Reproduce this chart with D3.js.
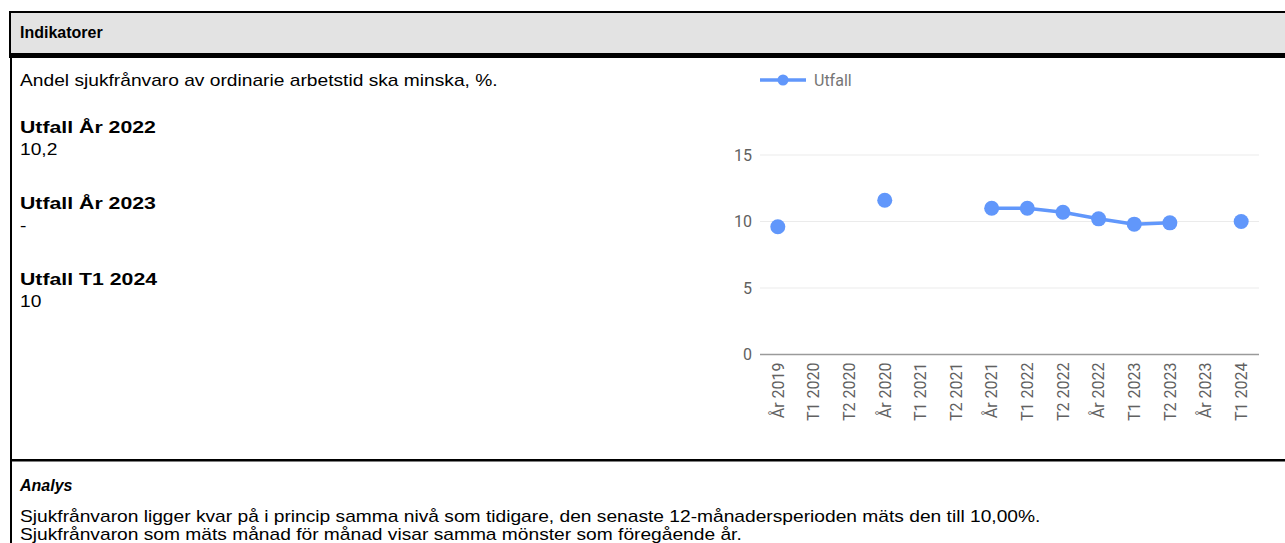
<!DOCTYPE html>
<html lang="sv">
<head>
<meta charset="UTF-8">
<title>Indikatorer</title>
<script src="https://cdn.jsdelivr.net/npm/d3@7"></script>
<style>
  body { margin: 0; background: #fff; }
  svg { display: block; }
</style>
</head>
<body>
<div id="container"></div>
<script>
// chart data
const categories = ["År 2019", "T1 2020", "T2 2020", "År 2020", "T1 2021", "T2 2021", "År 2021",
  "T1 2022", "T2 2022", "År 2022", "T1 2023", "T2 2023", "År 2023", "T1 2024"]
const utfall = [9.6, null, null, 11.6, null, null, 11.0, 11.0, 10.7, 10.2, 9.8, 9.9, null, 10.0]
const yTicks = [0, 5, 10, 15]
const seriesName = "Utfall"

// texts beside the chart
const summaryLabels = ["Utfall År 2022", "Utfall År 2023", "Utfall T1 2024"]
const summaryValues = ["10,2", "-", "10"]
const analysLines = [
  "Sjukfrånvaron ligger kvar på i princip samma nivå som tidigare, den senaste 12-månadersperioden mäts den till 10,00%.",
  "Sjukfrånvaron som mäts månad för månad visar samma mönster som föregående år."
]

const W = 1285, H = 543
const blue = "#6197fb"
const textFont = "'Liberation Sans', Arial, sans-serif"
const chartFont = "Roboto, sans-serif"

const svg = d3.select("#container").append("svg")
  .attr("width", W).attr("height", H)

// frame
svg.append("rect").attr("x", 10).attr("y", 12).attr("width", W).attr("height", 42)
  .attr("fill", "#e3e3e3").attr("stroke", "#000").attr("stroke-width", 2)
svg.append("rect").attr("x", 9).attr("y", 53).attr("width", W).attr("height", 5).attr("fill", "#000")
svg.append("rect").attr("x", 10).attr("y", 58).attr("width", 2).attr("height", H).attr("fill", "#000")
svg.append("rect").attr("x", 10).attr("y", 459).attr("width", W).attr("height", 2.5).attr("fill", "#000")

// the body text of the reference is drawn a bit wider than plain Arial, hence sx
const txt = (y, s, opts = {}) => svg.append("text")
  .attr("transform", `translate(20,${y}) scale(${opts.sx || 1},1)`)
  .text(s)
  .attr("font-family", textFont).attr("font-size", 16)
  .attr("font-weight", opts.bold ? "bold" : "normal")
  .attr("font-style", opts.italic ? "italic" : "normal")
  .attr("fill", "#000")

txt(38, "Indikatorer", { bold: true })
txt(86, "Andel sjukfrånvaro av ordinarie arbetstid ska minska, %.", { sx: 1.2 })
summaryLabels.forEach((s, i) => {
  txt(133 + i * 76, s, { bold: true, sx: 1.33 })
  txt(154.5 + i * 76, summaryValues[i], { sx: 1.2 })
})
txt(491, "Analys", { bold: true, italic: true })
analysLines.forEach((s, i) => txt(521.5 + i * 18, s, { sx: 1.2 }))

// chart
const x = d3.scaleBand().domain(categories).range([760, 1259])
const y = d3.scaleLinear().domain([0, 15]).range([354.5, 155])

const grid = svg.append("g")
grid.selectAll("line").data(yTicks).join("line")
  .attr("x1", 760).attr("x2", 1259)
  .attr("y1", d => y(d)).attr("y2", d => y(d))
  .attr("stroke", d => d === 0 ? "#9a9a9a" : "#ebebeb")
  .attr("stroke-width", d => d === 0 ? 1.5 : 1.2)

const yAxis = svg.append("g").attr("transform", "translate(760,0)")
  .call(d3.axisLeft(y).tickValues(yTicks).tickSize(0).tickPadding(8))
yAxis.select(".domain").remove()
yAxis.selectAll("text").attr("font-family", chartFont).attr("font-size", 16).attr("fill", "#616161")

const xAxis = svg.append("g").attr("transform", "translate(0,354.5)")
  .call(d3.axisBottom(x).tickSize(0))
xAxis.select(".domain").remove()
xAxis.selectAll("text")
  .attr("font-family", chartFont).attr("font-size", 16).attr("fill", "#616161")
  .attr("text-anchor", "end")
  .attr("transform", "rotate(-90)")
  .attr("x", -8).attr("y", 0).attr("dy", "0.36em")

const pts = categories.map((c, i) => ({ c, v: utfall[i] }))
const line = d3.line()
  .defined(d => d.v != null)
  .x(d => x(d.c) + x.bandwidth() / 2)
  .y(d => y(d.v))

svg.append("path").datum(pts).attr("d", line)
  .attr("fill", "none").attr("stroke", blue).attr("stroke-width", 3.5)

svg.selectAll(".dot").data(pts.filter(d => d.v != null)).join("circle")
  .attr("class", "dot")
  .attr("cx", d => x(d.c) + x.bandwidth() / 2)
  .attr("cy", d => y(d.v))
  .attr("r", 7.5)
  .attr("fill", blue)

// legend
const lg = svg.append("g").attr("transform", "translate(760,80)")
lg.append("line").attr("x1", 0).attr("x2", 46).attr("stroke", blue).attr("stroke-width", 3.5)
lg.append("circle").attr("cx", 23).attr("r", 5.5).attr("fill", blue)
lg.append("text").attr("x", 54).attr("dy", "0.35em").text(seriesName)
  .attr("font-family", chartFont).attr("font-size", 16).attr("fill", "#757575")
</script>
</body>
</html>
